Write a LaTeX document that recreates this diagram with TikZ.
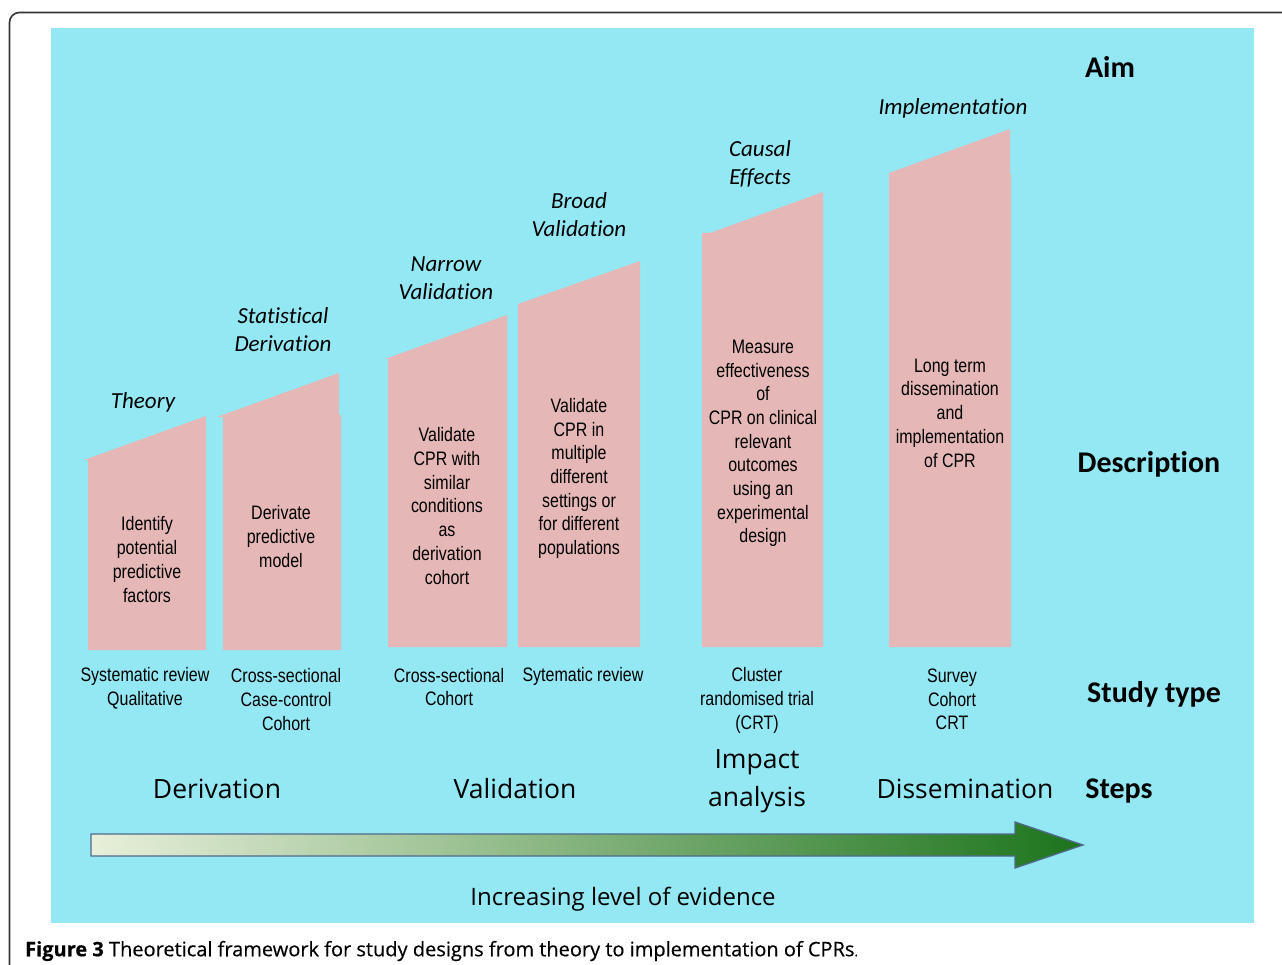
\documentclass[tikz,border=0pt]{standalone}
\usepackage{fontspec}
\setmainfont{Liberation Sans}
\newfontfamily\barfont[FakeStretch=0.82]{Liberation Sans}
\newfontfamily\calfont[Ligatures=NoCommon]{Carlito}
\newfontfamily\osfont{Open Sans}
\newfontfamily\capfont[FakeBold=0.4]{Open Sans}
\definecolor{bgcyan}{RGB}{147,232,243}
\definecolor{barpink}{RGB}{229,184,183}
\definecolor{arrowedge}{RGB}{80,106,140}
\definecolor{arrowL}{RGB}{232,239,218}
\definecolor{arrowM}{RGB}{155,187,106}
\definecolor{arrowR}{RGB}{28,116,28}
\tikzset{
  bartext/.style={font=\barfont\fontsize{19.5}{23.7}\selectfont, align=center, inner sep=0pt, text=black},
  aimtext/.style={font=\calfont\itshape\fontsize{23}{28}\selectfont, align=center, inner sep=0pt, text=black},
  steptext/.style={font=\osfont\fontsize{26.5}{38}\selectfont, align=center, inner sep=0pt, text=black},
  rowlabel/.style={font=\calfont\bfseries\fontsize{30}{36}\selectfont, inner sep=0pt, text=black},
  barfill/.style={fill=barpink},
}
\begin{document}
\begin{tikzpicture}[x=1pt,y=-1pt]
\useasboundingbox (0,0) rectangle (1282,965);
\fill[white] (0,0) rectangle (1282,965);
\begin{scope}
  \clip (0,0) rectangle (1282,965);
  \draw[line width=1.6pt, black!80, rounded corners=10pt] (9.5,12.5) rectangle (1330,1010);
\end{scope}
\fill[bgcyan] (51,28) rectangle (1254,923);

% bars
\fill[barfill] (84,460) -- (206,416) -- (206,650) -- (88,650) -- (88,460) -- cycle;
\fill[barfill] (217,417) -- (339,373) -- (339,415) -- (341,415) -- (341,650) -- (223,650) -- (223,417) -- cycle;
\fill[barfill] (385,359) -- (507,315) -- (507,647) -- (388,647) -- (388,359) -- cycle;
\fill[barfill] (518,304) -- (640,261) -- (640,647) -- (518,647) -- cycle;
\fill[barfill] (702,233) -- (710,233) -- (823,192) -- (823,647) -- (702,647) -- cycle;
\fill[barfill] (889,173) -- (1010,129) -- (1010,174) -- (1011,174) -- (1011,647) -- (889,647) -- cycle;

% aims
\node[aimtext] (aim1) at (143,402) {Theory};
\node[aimtext] (aim2) at (283,330) {Statistical\\Derivation};
\node[aimtext] (aim3) at (446,278) {Narrow\\Validation};
\node[aimtext] (aim4) at (579,215) {Broad\\Validation};
\node[aimtext] (aim5) at (760,164) {Causal\\Effects};
\node[aimtext] (aim6) at (953,108) {Implementation};

% descriptions
\node[bartext] (d1) at (147,559.5) {Identify\\potential\\predictive\\factors};
\node[bartext] (d2) at (281,536.5) {Derivate\\predictive\\model};
\node[bartext] (d3) at (447,506) {Validate\\CPR with\\similar\\conditions\\as\\derivation\\cohort};
\node[bartext] (d4) at (579,478.5) {Validate\\CPR in\\multiple\\different\\settings or\\for different\\populations};
\node[bartext] (d5) at (763,443.5) {Measure\\effectiveness\\of\\CPR on clinical\\relevant\\outcomes\\using an\\experimental\\design};
\node[bartext] (d6) at (950,413) {Long term\\dissemination\\and\\implementation\\of CPR};

% study types
\node[bartext] (s1) at (145,688) {Systematic review\\Qualitative};
\node[bartext] (s2) at (286,699.5) {Cross-sectional\\Case-control\\Cohort};
\node[bartext] (s3) at (449,687) {Cross-sectional\\Cohort};
\node[bartext] (s4) at (583,676) {Sytematic review};
\node[bartext] (s5) at (757,700.5) {Cluster\\randomised trial\\(CRT)};
\node[bartext] (s6) at (952,699.5) {Survey\\Cohort\\CRT};

% steps
\node[steptext] (st1) at (217,789) {Derivation};
\node[steptext] (st2) at (515,789) {Validation};
\node[steptext] (st3) at (757,781) {Impact\\analysis};
\node[steptext] (st4) at (965,789) {Dissemination};

% row labels
\node[rowlabel] (laim) at (1110,67) {Aim};
\node[rowlabel] (ldesc) at (1149,464) {Description};
\node[rowlabel] (lstudy) at (1154,694) {Study type};
\node[rowlabel] (lsteps) at (1119,791) {Steps};

% evidence arrow
\shadedraw[left color=arrowL, middle color=arrowM, right color=arrowR, draw=arrowedge, line width=1.3pt, line join=miter]
  (91,834) -- (1015,834) -- (1015,822) -- (1083,845) -- (1015,868) -- (1015,856) -- (91,856) -- cycle;
\node[font=\osfont\fontsize{24}{30}\selectfont, inner sep=0pt] (evid) at (623,899) {Increasing level of evidence};

% caption
\node[font=\capfont\fontsize{20}{24}\selectfont, anchor=west, inner sep=0pt] (cap) at (25,951) {\textbf{Figure 3} Theoretical framework for study designs from theory to implementation of CPRs{\fontsize{13}{13}\selectfont.}};
\end{tikzpicture}
\end{document}
